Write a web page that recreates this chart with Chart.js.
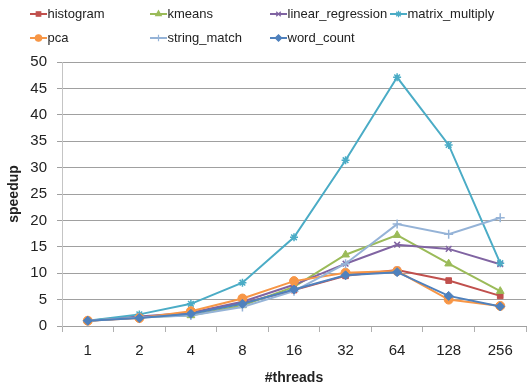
<!DOCTYPE html>
<html>
<head>
<meta charset="utf-8">
<script src="https://cdn.jsdelivr.net/npm/chart.js@4/dist/chart.umd.min.js"></script>
<style>
  html, body { margin: 0; padding: 0; background: #fff; }
  #wrap { width: 532px; height: 387px; position: relative; }
</style>
</head>
<body>
<div id="wrap"><canvas id="c" width="532" height="387"></canvas></div>
<script>
const categories = ['1', '2', '4', '8', '16', '32', '64', '128', '256'];
const seriesNames = ['histogram', 'kmeans', 'linear_regression', 'matrix_multiply', 'pca', 'string_match', 'word_count'];
const histogram = [1.0, 1.6, 2.4, 4.3, 6.8, 9.5, 10.6, 8.6, 5.7];
const kmeans = [1.0, 1.7, 2.0, 3.9, 7.4, 13.5, 17.2, 11.8, 6.6];
const linear_regression = [1.0, 1.8, 2.5, 4.6, 7.8, 11.8, 15.4, 14.6, 11.7];
const matrix_multiply = [1.0, 2.2, 4.2, 8.2, 16.8, 31.4, 47.1, 34.3, 11.9];
const pca = [1.0, 1.5, 2.8, 5.2, 8.5, 10.1, 10.4, 5.0, 3.8];
const string_match = [1.0, 1.6, 2.0, 3.6, 6.6, 11.8, 19.3, 17.4, 20.5];
const word_count = [1.0, 1.5, 2.3, 4.2, 6.9, 9.6, 10.2, 5.7, 3.7];
const yTicks = [0, 5, 10, 15, 20, 25, 30, 35, 40, 45, 50];
const xTitle = '#threads';
const yTitle = 'speedup';

const seriesValues = [histogram, kmeans, linear_regression, matrix_multiply, pca, string_match, word_count];
const colors = ['#C0504D', '#9BBB59', '#8064A2', '#4BACC6', '#F79646', '#95B3D7', '#4F81BD'];
const styles = ['rect', 'triangle', 'crossRot', 'star', 'circle', 'cross', 'rectRot'];
const radii = [4, 4.5, 4, 4, 4.5, 4.5, 4.5];

const FONT = "'Liberation Sans', Arial, sans-serif";

const datasets = seriesNames.map((name, i) => ({
  label: name,
  data: seriesValues[i],
  borderColor: colors[i],
  backgroundColor: colors[i],
  borderWidth: 2,
  pointStyle: styles[i],
  pointRadius: radii[i],
  pointBorderWidth: (styles[i] === 'crossRot' || styles[i] === 'star' || styles[i] === 'cross') ? 1.5 : 1,
  pointBackgroundColor: colors[i],
  pointBorderColor: colors[i],
  tension: 0,
  order: seriesNames.length - i
}));

const legendPlugin = {
  id: 'gridLegend',
  afterDraw(chart) {
    const ctx = chart.ctx;
    ctx.save();
    ctx.font = '13px ' + FONT;
    ctx.textBaseline = 'middle';
    ctx.textAlign = 'left';
    const perRow = 4;
    chart.data.datasets.forEach((ds, i) => {
      const row = Math.floor(i / perRow);
      const col = i % perRow;
      const x = 30 + col * 120;
      const y = 14 + row * 24;
      ctx.strokeStyle = ds.borderColor;
      ctx.lineWidth = 2;
      ctx.beginPath();
      ctx.moveTo(x, y);
      ctx.lineTo(x + 17, y);
      ctx.stroke();
      const opts = {
        pointStyle: ds.pointStyle,
        radius: 3.2,
        rotation: 0,
        borderWidth: 1.2
      };
      ctx.fillStyle = ds.backgroundColor;
      ctx.strokeStyle = ds.borderColor;
      ctx.lineWidth = 1.2;
      if (Chart.helpers && Chart.helpers.drawPoint) {
        Chart.helpers.drawPoint(ctx, opts, x + 8.5, y);
      } else {
        ctx.fillRect(x + 5.5, y - 3, 6, 6);
      }
      ctx.fillStyle = '#222';
      ctx.fillText(ds.label, x + 17.5, y);
    });
    ctx.restore();
  }
};

new Chart(document.getElementById('c'), {
  type: 'line',
  data: { labels: categories, datasets },
  options: {
    responsive: false,
    animation: false,
    devicePixelRatio: 1,
    layout: { padding: { top: 62, right: 0, bottom: 0, left: 0 } },
    plugins: {
      legend: { display: false },
      tooltip: { enabled: false }
    },
    scales: {
      x: {
        type: 'category',
        offset: true,
        grid: {
          offset: true,
          drawOnChartArea: false,
          drawTicks: true,
          tickLength: 6,
          color: '#b0b0b0',
          lineWidth: 1
        },
        border: { display: true, color: '#a0a0a0', width: 1 },
        ticks: {
          padding: 10,
          color: '#222',
          font: { family: FONT, size: 15 },
          maxRotation: 0
        },
        title: {
          display: true,
          text: xTitle,
          color: '#222',
          font: { family: FONT, size: 14, weight: 'bold' },
          padding: { top: 0, bottom: 0 }
        },
        afterFit(scale) { scale.height = 61; }
      },
      y: {
        min: 0,
        max: 50,
        afterBuildTicks(scale) { scale.ticks = yTicks.map(v => ({ value: v })); },
        grid: {
          color: '#a0a0a0',
          lineWidth: 1,
          drawTicks: true,
          tickLength: 5
        },
        border: { display: true, color: '#c4c4c4', width: 1 },
        ticks: {
          padding: 10,
          color: '#222',
          font: { family: FONT, size: 15 }
        },
        title: {
          display: true,
          text: yTitle,
          color: '#222',
          font: { family: FONT, size: 14, weight: 'bold' },
          padding: { top: 6, bottom: 0 }
        },
        afterFit(scale) { scale.width = 62; }
      }
    }
  },
  plugins: [legendPlugin]
});
</script>
</body>
</html>
